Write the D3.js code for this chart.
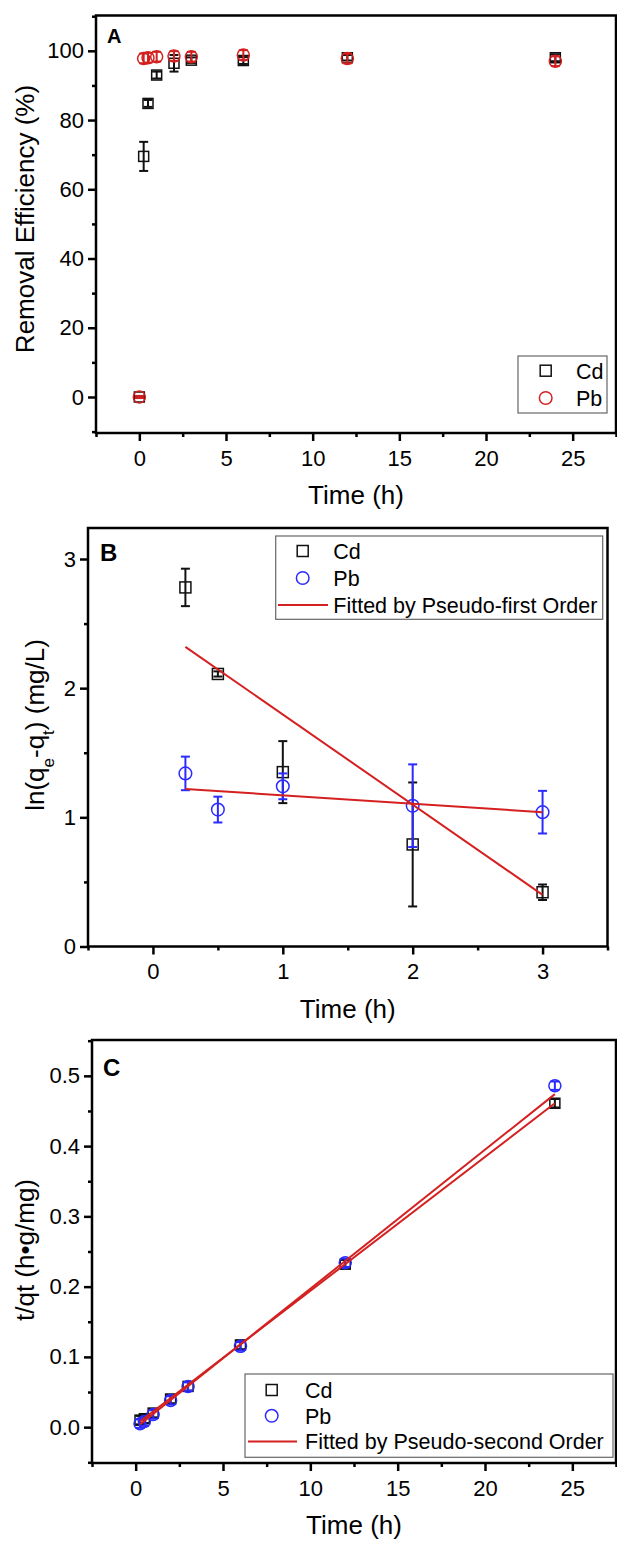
<!DOCTYPE html>
<meta charset="utf-8">
<script src="https://cdn.jsdelivr.net/npm/d3@7"></script>
<style>
  body { margin: 0; background: #fff; }
  text { font-family: "Liberation Sans", Arial, sans-serif; fill: #000; }
  .frame { fill: none; stroke: #000; stroke-width: 2.5; }
  .axis path { display: none; }
  .axis line { stroke: #000; stroke-width: 2.5; }
  .axis text { font-size: 22px; }
  .legend-box { fill: #fff; stroke: #666; stroke-width: 1.2; }
</style>
<body>
<svg id="fig" width="617" height="1542"></svg>
<script>
// ---- panel A : removal efficiency ----
var timeA = [0, 0.25, 0.5, 1, 2, 3, 6, 12, 24]
var cdRemoval = [0, 69.5, 84.8, 93.0, 96.4, 97.3, 97.2, 98.0, 98.0]
var cdRemovalErr = [0.3, 4.2, 1.0, 1.0, 2.4, 0.8, 1.0, 0.8, 1.0]
var pbRemoval = [0, 97.8, 98.0, 98.3, 98.5, 98.3, 98.8, 97.8, 97.0]
var pbRemovalErr = [0.3, 1.4, 1.4, 1.4, 1.4, 1.4, 1.4, 1.4, 1.4]

// ---- panel B : pseudo-first order ----
var timeB = [0.25, 0.5, 1, 2, 3]
var cdLn = [2.78, 2.11, 1.35, 0.79, 0.42]
var cdLnErr = [0.145, 0.02, 0.24, 0.48, 0.06]
var pbLn = [1.34, 1.06, 1.24, 1.09, 1.04]
var pbLnErr = [0.13, 0.10, 0.10, 0.32, 0.165]
var cdFirstFit = [[0.25, 2.32], [3, 0.40]]
var pbFirstFit = [[0.25, 1.22], [3, 1.04]]

// ---- panel C : pseudo-second order ----
var timeC = [0.25, 0.5, 1, 2, 3, 6, 12, 24]
var cdTq = [0.010, 0.012, 0.020, 0.040, 0.058, 0.117, 0.232, 0.461]
var cdTqErr = [0.006, 0.006, 0.006, 0.006, 0.006, 0.006, 0.006, 0.006]
var pbTq = [0.005, 0.008, 0.018, 0.038, 0.058, 0.115, 0.234, 0.486]
var pbTqErr = [0.006, 0.006, 0.006, 0.006, 0.006, 0.006, 0.006, 0.006]
var cdSecondFit = [[0.25, 0.008], [24, 0.461]]
var pbSecondFit = [[0.25, 0.004], [24, 0.474]]

var xTicksLong = [0, 5, 10, 15, 20, 25]
var xMinorLong = [-2.5, 2.5, 7.5, 12.5, 17.5, 22.5, 27.5]
var yTicksA = [0, 20, 40, 60, 80, 100]
var yMinorA = [-10, 10, 30, 50, 70, 90, 110]
var xTicksB = [0, 1, 2, 3]
var xMinorB = [-0.5, 0.5, 1.5, 2.5, 3.5]
var yTicksB = [0, 1, 2, 3]
var yMinorB = [0.5, 1.5, 2.5]
var yTicksC = [0, 0.1, 0.2, 0.3, 0.4, 0.5]
var yMinorC = [-0.05, 0.05, 0.15, 0.25, 0.35, 0.45, 0.55]

var red = "#d42020", blue = "#2b2bff"
var svg = d3.select("#fig")

function panel(p) {
    var x = d3.scaleLinear().domain(p.xDomain).range([p.left, p.right])
    var y = d3.scaleLinear().domain(p.yDomain).range([p.bottom, p.top])
    var g = svg.append("g")

    g.append("g").attr("class", "axis").attr("transform", "translate(0," + p.bottom + ")")
        .call(d3.axisBottom(x).tickValues(p.xMinor).tickSize(4).tickFormat(""))
    g.append("g").attr("class", "axis").attr("transform", "translate(0," + p.bottom + ")")
        .call(d3.axisBottom(x).tickValues(p.xTicks).tickSize(8).tickPadding(9).tickFormat(p.xFormat))
    g.append("g").attr("class", "axis").attr("transform", "translate(" + p.left + ",0)")
        .call(d3.axisLeft(y).tickValues(p.yMinor.filter(v => y(v) <= p.bottom + 0.5 && y(v) >= p.top - 0.5)).tickSize(4).tickFormat(""))
    g.append("g").attr("class", "axis").attr("transform", "translate(" + p.left + ",0)")
        .call(d3.axisLeft(y).tickValues(p.yTicks).tickSize(8).tickPadding(4).tickFormat(p.yFormat))

    g.append("rect").attr("class", "frame").attr("x", p.left).attr("y", p.top)
        .attr("width", p.right - p.left).attr("height", p.bottom - p.top)

    g.append("text").attr("x", p.labelX).attr("y", p.labelY).text(p.label)
        .style("font-weight", "bold").style("font-size", p.labelSize + "px")

    g.append("text").attr("x", (p.left + p.right) / 2).attr("y", p.bottom + 71)
        .attr("text-anchor", "middle").style("font-size", "26px").text("Time (h)")

    var yt = g.append("text").attr("transform", "translate(" + p.yTitleX + "," + p.yTitleY + ") rotate(-90)")
        .attr("text-anchor", "middle").style("font-size", "26px")
    p.yTitle(yt)
    return { g: g, x: x, y: y }
}

function errorBars(pp, xs, ys, es, color) {
    var gg = pp.g.append("g").attr("stroke", color).attr("stroke-width", 2)
    xs.forEach((t, i) => {
        var cx = pp.x(t), y1 = pp.y(ys[i] - es[i]), y2 = pp.y(ys[i] + es[i])
        gg.append("line").attr("x1", cx).attr("x2", cx).attr("y1", y1).attr("y2", y2)
        gg.append("line").attr("x1", cx - 4.5).attr("x2", cx + 4.5).attr("y1", y1).attr("y2", y1)
        gg.append("line").attr("x1", cx - 4.5).attr("x2", cx + 4.5).attr("y1", y2).attr("y2", y2)
    })
}

function squares(pp, xs, ys, size) {
    pp.g.append("g").selectAll("rect").data(xs).enter().append("rect")
        .attr("x", (d) => pp.x(d) - size / 2).attr("y", (d, i) => pp.y(ys[i]) - size / 2)
        .attr("width", size).attr("height", size)
        .style("fill", "none").style("stroke", "#111").style("stroke-width", 1.5)
}

function circles(pp, xs, ys, r, color) {
    pp.g.append("g").selectAll("circle").data(xs).enter().append("circle")
        .attr("cx", (d) => pp.x(d)).attr("cy", (d, i) => pp.y(ys[i])).attr("r", r)
        .style("fill", "none").style("stroke", color).style("stroke-width", 1.5)
}

function fitLine(pp, pts) {
    pp.g.append("path").datum(pts)
        .attr("d", d3.line().x((d) => pp.x(d[0])).y((d) => pp.y(d[1])))
        .style("fill", "none").style("stroke", red).style("stroke-width", 2)
}

function legend(pp, box, rows) {
    pp.g.append("rect").attr("class", "legend-box").attr("x", box.x).attr("y", box.y)
        .attr("width", box.w).attr("height", box.h)
    rows.forEach((r, i) => {
        var cy = box.row0 + i * box.step
        if (r.type == "square")
            pp.g.append("rect").attr("x", box.mx - 5.5).attr("y", cy - 5.5).attr("width", 11).attr("height", 11)
                .style("fill", "none").style("stroke", "#111").style("stroke-width", 1.5)
        else if (r.type == "circle")
            pp.g.append("circle").attr("cx", box.mx).attr("cy", cy).attr("r", 6.3)
                .style("fill", "none").style("stroke", r.color).style("stroke-width", 1.5)
        else
            pp.g.append("line").attr("x1", box.lx1).attr("x2", box.lx2).attr("y1", cy).attr("y2", cy)
                .style("stroke", red).style("stroke-width", 2)
        pp.g.append("text").attr("x", box.tx).attr("y", cy + 7.8).style("font-size", "21.5px").text(r.text)
    })
}

// Panel A
var pA = panel({
    left: 96, right: 616, top: 15.5, bottom: 433,
    xDomain: [-2.5, 27.5], yDomain: [-10.4, 110.2],
    xTicks: xTicksLong, xMinor: xMinorLong, yTicks: yTicksA, yMinor: yMinorA,
    xFormat: d3.format("d"), yFormat: d3.format("d"),
    label: "A", labelX: 107, labelY: 43, labelSize: 20,
    yTitleX: 34, yTitleY: 219,
    yTitle: (t) => t.text("Removal Efficiency (%)")
})
errorBars(pA, timeA, cdRemoval, cdRemovalErr, "#111")
squares(pA, timeA, cdRemoval, 10)
errorBars(pA, timeA, pbRemoval, pbRemovalErr, red)
circles(pA, timeA, pbRemoval, 6, red)
legend(pA, { x: 518, y: 356, w: 89, h: 57, row0: 370.7, step: 27.3, mx: 545.7, tx: 576 },
    [{ type: "square", text: "Cd" }, { type: "circle", color: red, text: "Pb" }])

// Panel B
var pB = panel({
    left: 88, right: 607.5, top: 528, bottom: 946.5,
    xDomain: [-0.5, 3.5], yDomain: [0, 3.24],
    xTicks: xTicksB, xMinor: xMinorB, yTicks: yTicksB, yMinor: yMinorB,
    xFormat: d3.format("d"), yFormat: d3.format("d"),
    label: "B", labelX: 100, labelY: 561, labelSize: 24,
    yTitleX: 44, yTitleY: 725,
    yTitle: (t) => {
        t.append("tspan").text("ln(q")
        t.append("tspan").attr("baseline-shift", "sub").style("font-size", "17px").text("e")
        t.append("tspan").text("-q")
        t.append("tspan").attr("baseline-shift", "sub").style("font-size", "17px").text("t")
        t.append("tspan").text(") (mg/L)")
    }
})
errorBars(pB, timeB, cdLn, cdLnErr, "#111")
squares(pB, timeB, cdLn, 11)
errorBars(pB, timeB, pbLn, pbLnErr, blue)
circles(pB, timeB, pbLn, 6.3, blue)
fitLine(pB, cdFirstFit)
fitLine(pB, pbFirstFit)
legend(pB, { x: 275.7, y: 536, w: 327, h: 83.3, row0: 551, step: 27, mx: 302.7, tx: 333.3, lx1: 278, lx2: 328 },
    [{ type: "square", text: "Cd" }, { type: "circle", color: blue, text: "Pb" },
     { type: "line", text: "Fitted by Pseudo-first Order" }])

// Panel C
var pC = panel({
    left: 92, right: 616, top: 1040, bottom: 1463,
    xDomain: [-2.5, 27.5], yDomain: [-0.051, 0.551],
    xTicks: xTicksLong, xMinor: xMinorLong, yTicks: yTicksC, yMinor: yMinorC,
    xFormat: d3.format("d"), yFormat: d3.format(".1f"),
    label: "C", labelX: 103, labelY: 1076, labelSize: 24,
    yTitleX: 34, yTitleY: 1250,
    yTitle: (t) => t.text("t/qt (h\u2022g/mg)")
})
errorBars(pC, timeC, cdTq, cdTqErr, "#111")
squares(pC, timeC, cdTq, 10)
errorBars(pC, timeC, pbTq, pbTqErr, blue)
circles(pC, timeC, pbTq, 6, blue)
fitLine(pC, cdSecondFit)
fitLine(pC, pbSecondFit)
legend(pC, { x: 245, y: 1374, w: 368, h: 83.3, row0: 1390, step: 25.8, mx: 271.7, tx: 305, lx1: 248, lx2: 297 },
    [{ type: "square", text: "Cd" }, { type: "circle", color: blue, text: "Pb" },
     { type: "line", text: "Fitted by Pseudo-second Order" }])
</script>
</body>
</html>
